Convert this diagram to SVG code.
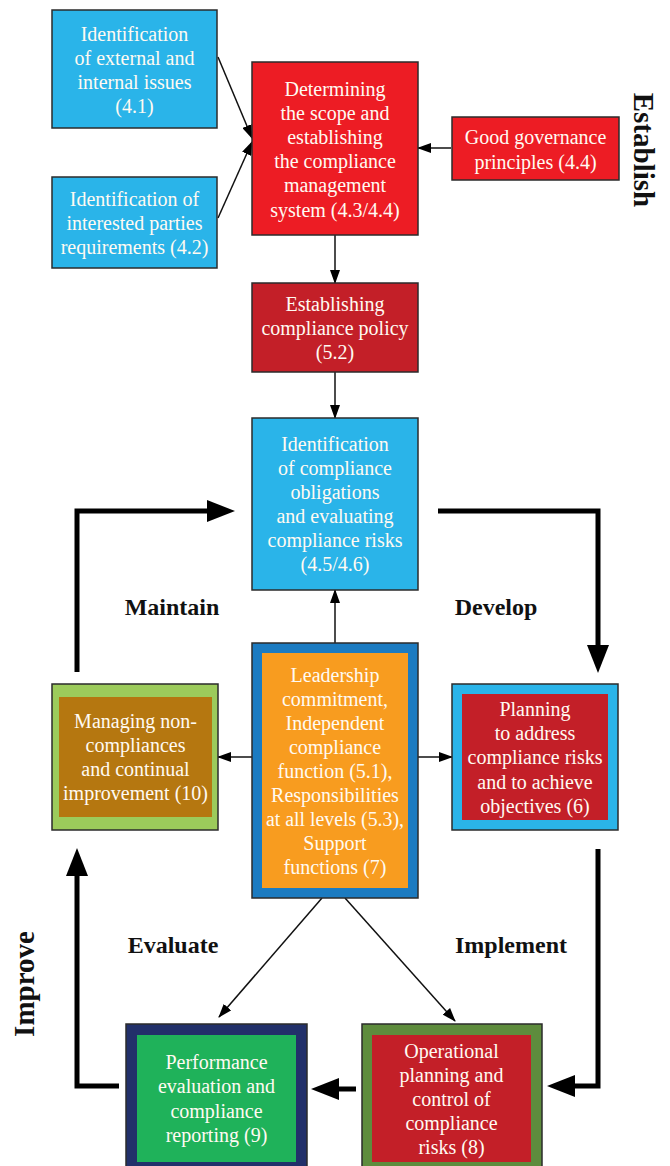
<svg xmlns="http://www.w3.org/2000/svg" width="670" height="1166" viewBox="0 0 670 1166">
<defs>
<style>
.box{stroke:#2b2b2b;stroke-width:1.5}
.t{font-family:"Liberation Serif","Times New Roman",serif;font-size:20px;fill:#fffaf2;text-anchor:middle}
.lbl{font-family:"Liberation Serif","Times New Roman",serif;font-weight:bold;font-size:24px;fill:#111111;text-anchor:middle}
.big{font-family:"Liberation Serif","Times New Roman",serif;font-weight:bold;font-size:29px;fill:#111111;text-anchor:middle}
.thin{stroke:#111;stroke-width:1.5;fill:none;marker-end:url(#ah)}
.thick{stroke:#000;stroke-width:5;fill:none;stroke-linejoin:miter;marker-end:url(#ahb)}
.cyan{fill:#2ab4e9}.red{fill:#ed1c24}.dred{fill:#c31f28}
</style>
<marker id="ah" markerUnits="userSpaceOnUse" markerWidth="14" markerHeight="10" refX="13" refY="5" orient="auto">
<path d="M0,0 L14,5 L0,10 z" fill="#000"/>
</marker>
<marker id="ahb" markerUnits="userSpaceOnUse" markerWidth="28" markerHeight="22" refX="2" refY="11" orient="auto">
<path d="M0,0 L28,11 L0,22 z" fill="#000"/>
</marker>
</defs>
<rect width="670" height="1166" fill="#ffffff"/>

<g id="connectors">
<line class="thin" x1="218" y1="57" x2="252" y2="138"/>
<line class="thin" x1="218" y1="218" x2="252" y2="142"/>
<line class="thin" x1="451" y1="148" x2="418" y2="148"/>
<line class="thin" x1="335" y1="235" x2="335" y2="283"/>
<line class="thin" x1="335" y1="372" x2="335" y2="418"/>
<line class="thin" x1="335" y1="643" x2="335" y2="590"/>
<line class="thin" x1="252" y1="757" x2="218" y2="757"/>
<line class="thin" x1="418" y1="757" x2="452" y2="757"/>
<line class="thin" x1="322" y1="898" x2="219" y2="1017"/>
<line class="thin" x1="345" y1="898" x2="455" y2="1021"/>
<polyline class="thick" points="77,672 77,511 209,511"/>
<polyline class="thick" points="438,511 598,511 598,647"/>
<polyline class="thick" points="598,849 598,1086 573,1086"/>
<polyline class="thick" points="356,1089 337,1089"/>
<polyline class="thick" points="119,1086 77,1086 77,874"/>
</g>

<g id="node-external-issues">
<rect class="box cyan" x="52" y="10" width="165" height="118"/>
<text class="t" x="134.5" y="41">Identification</text>
<text class="t" x="134.5" y="65">of external and</text>
<text class="t" x="134.5" y="89">internal issues</text>
<text class="t" x="134.5" y="113">(4.1)</text>
</g>

<g id="node-interested-parties">
<rect class="box cyan" x="52" y="177" width="165" height="91"/>
<text class="t" x="134.5" y="206">Identification of</text>
<text class="t" x="134.5" y="230">interested parties</text>
<text class="t" x="134.5" y="254">requirements (4.2)</text>
</g>

<g id="node-scope">
<rect class="box red" x="252" y="62" width="166" height="173"/>
<text class="t" x="335" y="96">Determining</text>
<text class="t" x="335" y="120">the scope and</text>
<text class="t" x="335" y="144">establishing</text>
<text class="t" x="335" y="168">the compliance</text>
<text class="t" x="335" y="192">management</text>
<text class="t" x="335" y="217">system (4.3/4.4)</text>
</g>

<g id="node-governance">
<rect class="box red" x="452" y="117" width="167" height="63"/>
<text class="t" x="535.5" y="144">Good governance</text>
<text class="t" x="535.5" y="169">principles (4.4)</text>
</g>

<g id="label-establish">
<text class="big" x="634" y="150" transform="rotate(90 634 150)">Establish</text>
</g>

<g id="node-policy">
<rect class="box dred" x="252" y="283" width="166" height="89"/>
<text class="t" x="335" y="311">Establishing</text>
<text class="t" x="335" y="335">compliance policy</text>
<text class="t" x="335" y="359">(5.2)</text>
</g>

<g id="node-obligations">
<rect class="box cyan" x="252" y="418" width="166" height="172"/>
<text class="t" x="335" y="451">Identification</text>
<text class="t" x="335" y="475">of compliance</text>
<text class="t" x="335" y="499">obligations</text>
<text class="t" x="335" y="523">and evaluating</text>
<text class="t" x="335" y="547">compliance risks</text>
<text class="t" x="335" y="571">(4.5/4.6)</text>
</g>

<g id="label-maintain"><text class="lbl" x="172" y="615">Maintain</text></g>
<g id="label-develop"><text class="lbl" x="496" y="615">Develop</text></g>

<g id="node-leadership">
<rect class="box" x="252" y="643" width="166" height="255" fill="#1b7bc1"/>
<rect x="262" y="653" width="146" height="235" fill="#f89c1f"/>
<text class="t" x="335" y="682">Leadership</text>
<text class="t" x="335" y="706">commitment,</text>
<text class="t" x="335" y="730">Independent</text>
<text class="t" x="335" y="754">compliance</text>
<text class="t" x="335" y="778">function (5.1),</text>
<text class="t" x="335" y="802">Responsibilities</text>
<text class="t" x="335" y="826" textLength="138" lengthAdjust="spacingAndGlyphs">at all levels (5.3),</text>
<text class="t" x="335" y="850">Support</text>
<text class="t" x="335" y="874">functions (7)</text>
</g>

<g id="node-nonconformities">
<rect class="box" x="52" y="684" width="166" height="146" fill="#9ccb5b"/>
<rect x="59" y="697" width="153" height="120" fill="#b57710"/>
<text class="t" x="135.5" y="728">Managing non-</text>
<text class="t" x="135.5" y="752">compliances</text>
<text class="t" x="135.5" y="776">and continual</text>
<text class="t" x="135.5" y="800">improvement (10)</text>
</g>

<g id="node-planning">
<rect class="box cyan" x="452" y="684" width="166" height="146"/>
<rect x="462" y="694" width="146" height="126" fill="#c31f28"/>
<text class="t" x="535" y="716">Planning</text>
<text class="t" x="535" y="740">to address</text>
<text class="t" x="535" y="764">compliance risks</text>
<text class="t" x="535" y="789">and to achieve</text>
<text class="t" x="535" y="813">objectives (6)</text>
</g>

<g id="label-evaluate"><text class="lbl" x="173" y="953">Evaluate</text></g>
<g id="label-implement"><text class="lbl" x="511" y="953">Implement</text></g>
<g id="label-improve">
<text class="big" x="34" y="984" transform="rotate(-90 34 984)">Improve</text>
</g>

<g id="node-performance">
<rect class="box" x="126" y="1024" width="181" height="150" fill="#22306a"/>
<rect x="137" y="1035" width="159" height="127" fill="#1fb25a"/>
<text class="t" x="216.5" y="1069">Performance</text>
<text class="t" x="216.5" y="1093">evaluation and</text>
<text class="t" x="216.5" y="1118">compliance</text>
<text class="t" x="216.5" y="1142">reporting (9)</text>
</g>

<g id="node-operational">
<rect class="box" x="362" y="1024" width="180" height="150" fill="#5e8c3d"/>
<rect x="372" y="1035" width="159" height="127" fill="#c31f28"/>
<text class="t" x="451.5" y="1058">Operational</text>
<text class="t" x="451.5" y="1082">planning and</text>
<text class="t" x="451.5" y="1106">control of</text>
<text class="t" x="451.5" y="1130">compliance</text>
<text class="t" x="451.5" y="1154">risks (8)</text>
</g>
</svg>
